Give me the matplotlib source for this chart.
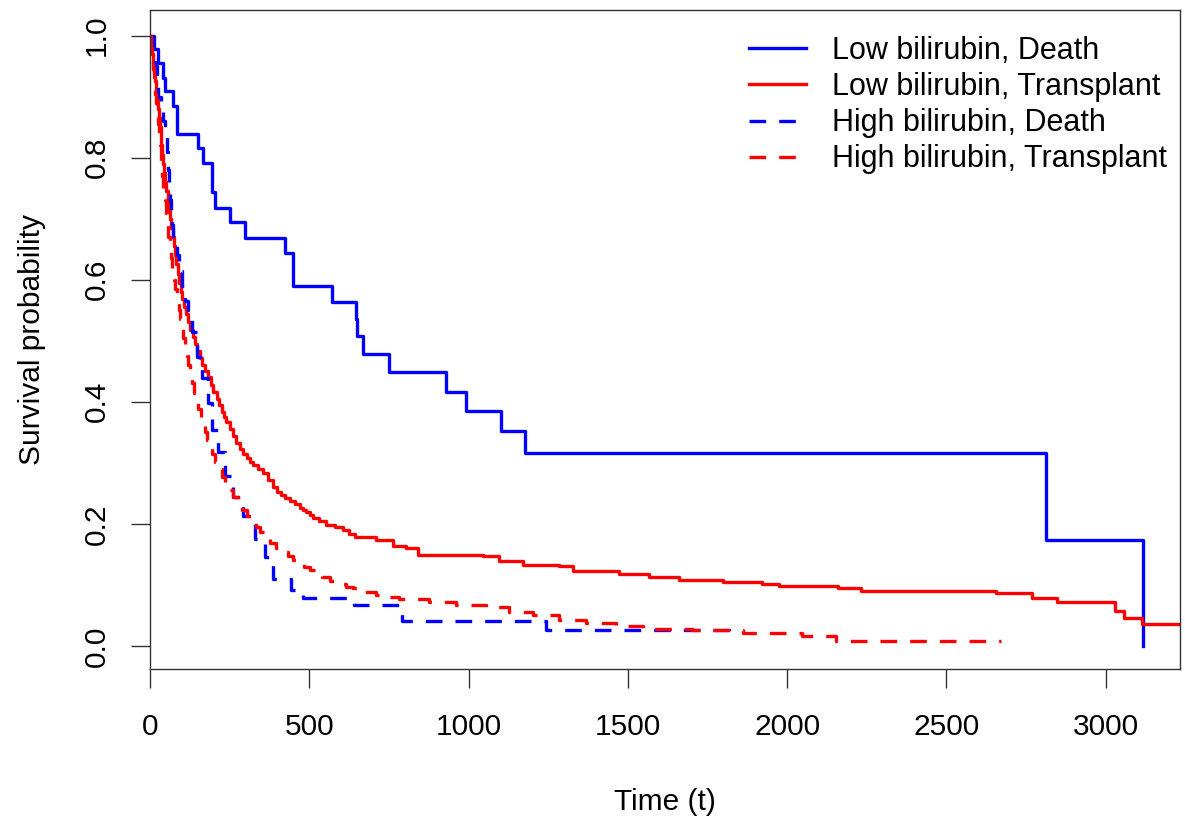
import matplotlib
matplotlib.use("Agg")
import matplotlib.pyplot as plt

plt.rcParams['font.family'] = ['Liberation Sans', 'DejaVu Sans']

# ---- data ----
low_death_t = [0, 12.6, 26, 42, 47, 73, 84, 152, 167, 194, 204, 251, 298, 424, 450,
               570, 646, 651, 668, 750, 928, 992, 1102, 1177, 2811, 3116]
low_death_s = [1.0, 0.978, 0.955, 0.931, 0.910, 0.884, 0.839, 0.816, 0.791, 0.744, 0.718,
               0.695, 0.668, 0.643, 0.590, 0.564, 0.536, 0.507, 0.478, 0.448, 0.416,
               0.385, 0.352, 0.316, 0.173, 0.0]

low_tx_t = [0, 3, 6, 9, 12, 15, 18, 21, 24, 27, 30, 33, 36, 39, 42, 45, 48, 51, 55, 59,
            63, 67, 71, 75, 79, 83, 87, 92, 97, 102, 108, 114, 120, 127, 134, 141, 148,
            156, 164, 172, 181, 190, 199, 209, 217, 225, 232, 240, 250, 260, 271, 282,
            292, 303, 313, 324, 340, 355, 370, 386, 398, 410, 425, 439, 455, 470, 480,
            491, 502, 512, 530, 553, 580, 606, 625, 643, 710, 763, 805, 841, 1045, 1097,
            1170, 1285, 1327, 1473, 1567, 1661, 1797, 1922, 1975, 2158, 2231, 2654, 2769,
            2847, 3030, 3056, 3114, 3240]
low_tx_s = [1.0, 0.985, 0.97, 0.955, 0.94, 0.925, 0.91, 0.895, 0.88, 0.865, 0.85, 0.835,
            0.82, 0.805, 0.79, 0.775, 0.76, 0.745, 0.73, 0.715, 0.70, 0.685, 0.67, 0.655,
            0.64, 0.625, 0.61, 0.595, 0.58, 0.568, 0.555, 0.543, 0.53, 0.518, 0.506,
            0.494, 0.483, 0.472, 0.461, 0.45, 0.44, 0.428, 0.416, 0.404, 0.394, 0.384,
            0.375, 0.366, 0.355, 0.344, 0.333, 0.322, 0.314, 0.307, 0.301, 0.296, 0.29,
            0.283, 0.272, 0.260, 0.252, 0.247, 0.243, 0.238, 0.232, 0.226, 0.223, 0.219,
            0.214, 0.210, 0.204, 0.198, 0.194, 0.189, 0.183, 0.178, 0.174, 0.163, 0.161,
            0.149, 0.147, 0.139, 0.133, 0.130, 0.122, 0.117, 0.112, 0.108, 0.104, 0.102,
            0.098, 0.094, 0.090, 0.087, 0.078, 0.072, 0.057, 0.045, 0.036, 0.036]

high_death_t = [0, 6, 16, 22, 26, 33, 40, 47, 52, 57, 60, 63, 66, 68, 73, 84, 92, 99, 110,
                120, 131, 146, 162, 183, 194, 214, 235, 261, 292, 330, 361, 387, 444, 480,
                640, 790, 1243, 1816]
high_death_s = [1.0, 0.975, 0.95, 0.925, 0.90, 0.875, 0.86, 0.835, 0.81, 0.78, 0.76, 0.73,
                0.71, 0.69, 0.665, 0.64, 0.615, 0.59, 0.565, 0.55, 0.515, 0.474, 0.439,
                0.398, 0.354, 0.318, 0.278, 0.244, 0.212, 0.175, 0.145, 0.109, 0.092,
                0.078, 0.067, 0.041, 0.026, 0.008]

high_tx_t = [0, 3, 6, 9, 12, 15, 18, 21, 24, 27, 30, 33, 36, 39, 42, 46, 50, 54, 58, 62,
             66, 70, 75, 80, 85, 90, 95, 100, 105, 110, 115, 120, 126, 132, 138, 145, 152,
             159, 166, 173, 180, 188, 196, 205, 215, 225, 235, 247, 260, 275, 290, 303,
             318, 332, 345, 360, 378, 397, 415, 432, 449, 465, 482, 501, 520, 540, 564,
             590, 615, 637, 670, 710, 745, 783, 877, 961, 1055, 1128, 1202, 1285, 1369,
             1462, 1546, 1700, 1860, 2047, 2152, 2670]
high_tx_s = [1.0, 0.98, 0.96, 0.945, 0.925, 0.905, 0.89, 0.87, 0.855, 0.835, 0.82, 0.80,
             0.785, 0.77, 0.75, 0.73, 0.71, 0.69, 0.67, 0.65, 0.635, 0.615, 0.60, 0.585,
             0.565, 0.55, 0.535, 0.52, 0.505, 0.49, 0.475, 0.46, 0.445, 0.43, 0.415, 0.40,
             0.388, 0.375, 0.362, 0.35, 0.338, 0.326, 0.315, 0.302, 0.29, 0.277, 0.266,
             0.255, 0.244, 0.234, 0.222, 0.213, 0.203, 0.194, 0.186, 0.178, 0.169, 0.161,
             0.154, 0.147, 0.140, 0.134, 0.129, 0.124, 0.118, 0.112, 0.106, 0.101, 0.097,
             0.094, 0.089, 0.084, 0.080, 0.076, 0.072, 0.067, 0.064, 0.056, 0.050, 0.042,
             0.037, 0.032, 0.027, 0.026, 0.021, 0.016, 0.008, 0.008]

labels = ["Low bilirubin, Death", "Low bilirubin, Transplant",
          "High bilirubin, Death", "High bilirubin, Transplant"]
x_ticks = [0, 500, 1000, 1500, 2000, 2500, 3000]
y_ticks = [0.0, 0.2, 0.4, 0.6, 0.8, 1.0]

# ---- figure ----
W, H = 1185, 818
fig = plt.figure(figsize=(W / 100, H / 100), dpi=100)
ax = fig.add_axes([150 / W, 1 - 669 / H, (1180 - 150) / W, (669 - 10) / H])

lw = 2.4
dash = (0, (5.0, 3.9))
ax.step(low_death_t, low_death_s, where='post', color='#0000FF', lw=lw, label=labels[0])
ax.step(low_tx_t, low_tx_s, where='post', color='#FF0000', lw=lw, label=labels[1])
ax.step(high_death_t, high_death_s, where='post', color='#0000FF', lw=lw,
        linestyle=dash, label=labels[2])
ax.step(high_tx_t, high_tx_s, where='post', color='#FF0000', lw=lw,
        linestyle=dash, label=labels[3])

ax.set_xlim(0, 3233)
ax.set_ylim(-0.038, 1.042)
ax.set_xticks(x_ticks)
ax.set_xticklabels([str(v) for v in x_ticks])
ax.set_yticks(y_ticks)
ax.set_yticklabels([f"{v:.1f}" for v in y_ticks], rotation=90, va='center')

fs = 21.5
ax.tick_params(axis='both', direction='out', length=13.5, width=1.0, labelsize=fs,
               color='#333333')
ax.tick_params(axis='x', pad=18)
ax.tick_params(axis='y', pad=15)
for sp in ax.spines.values():
    sp.set_linewidth(1.0)
    sp.set_color('#333333')

ax.set_xlabel("Time (t)", fontsize=fs, labelpad=34)
ax.set_ylabel("Survival probability", fontsize=fs, labelpad=26)

leg = ax.legend(loc='upper left', bbox_to_anchor=(749 / W, 1 - 36 / H),
                bbox_transform=fig.transFigure, frameon=False, fontsize=22,
                borderpad=0, borderaxespad=0, handlelength=1.85, handletextpad=0.88,
                labelspacing=0.2)

fig.savefig("out.png", dpi=100)
